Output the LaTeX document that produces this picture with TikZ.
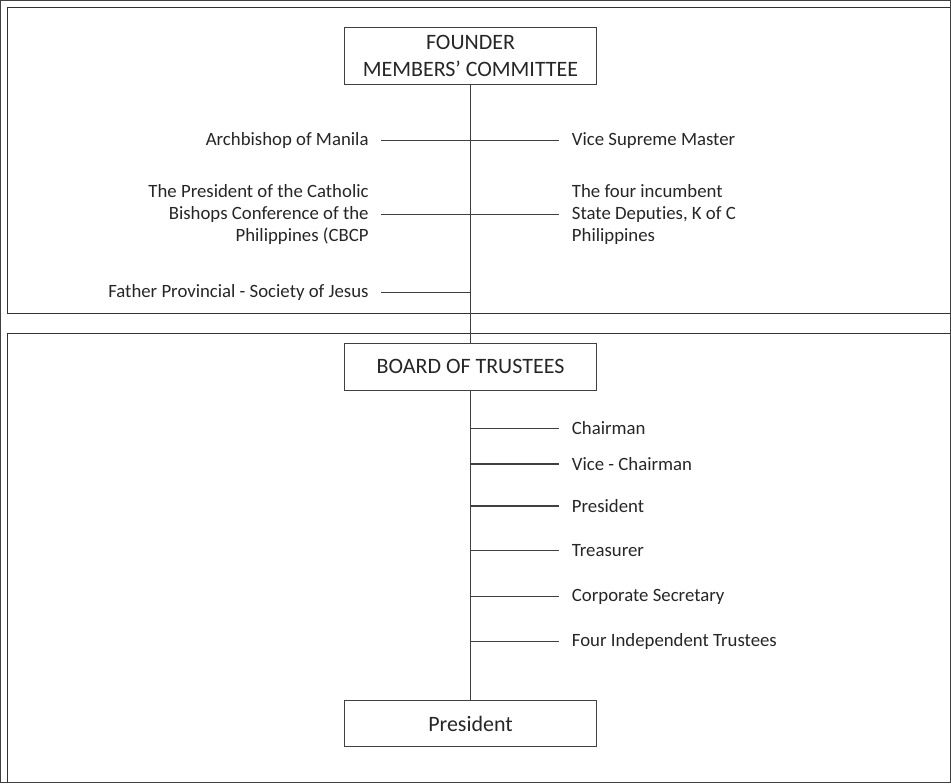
\documentclass[tikz,border=0pt]{standalone}
\usepackage{fontspec}
\setmainfont{Carlito}[Ligatures=NoCommon]
\usetikzlibrary{calc}

\begin{document}
\begin{tikzpicture}[
  x=1pt, y=-1pt,
  font=\fontsize{18.8}{22}\selectfont,
  every path/.style={line width=1.1pt, draw=black!75},
  box/.style={draw, minimum width=253pt, align=center,
              text=black!85, font=\fontsize{22}{27}\selectfont},
  lside/.style={anchor=east, align=right, inner xsep=12pt, text=black!85},
  rside/.style={anchor=west, align=left, inner xsep=12.5pt, text=black!85}
]
\useasboundingbox (0,0) rectangle (951,783);
\draw[black!80] (951,7) -- (7,7) -- (7,313) -- (951,313);
\draw[black!80] (951,333) -- (7,333) -- (7,783);

\node[box, minimum height=57pt] (founder) at (470.5,55.5)
  {FOUNDER\\MEMBERS' COMMITTEE};
\node[box, minimum height=47pt] (board) at (470.5,366.5) {BOARD OF TRUSTEES};
\node[box, minimum height=46pt] (pres) at (470.5,724) {President};
\draw (founder) -- (board);
\draw (board) -- (pres);

\node[lside] (archb) at (381,140) {Archbishop of Manila};
\node[rside] (vsm) at (559,140) {Vice Supreme Master};
\node[lside] (cbcp) at (381,214)
  {The President of the Catholic\\Bishops Conference of the\\Philippines (CBCP};
\node[rside] (deps) at (559,214)
  {The four incumbent\\State Deputies, K of C\\Philippines};
\node[lside] (prov) at (381,292) {Father Provincial - Society of Jesus};
\draw (archb) -- (vsm);
\draw (cbcp) -- (deps);
\draw (prov) -- (prov -| founder);

\node[rside] (chair) at (559,428) {Chairman};
\node[rside] (vchair) at (559,464) {Vice - Chairman};
\node[rside] (presm) at (559,506) {President};
\node[rside] (treas) at (559,551) {Treasurer};
\node[rside] (sec) at (559,597) {Corporate Secretary};
\node[rside] (indep) at (559,642) {Four Independent Trustees};
\draw (chair -| board) -- (chair);
\draw (vchair -| board) -- (vchair);
\draw (presm -| board) -- (presm);
\draw (treas -| board) -- (treas);
\draw (sec -| board) -- (sec);
\draw (indep -| board) -- (indep);
\end{tikzpicture}
\end{document}
